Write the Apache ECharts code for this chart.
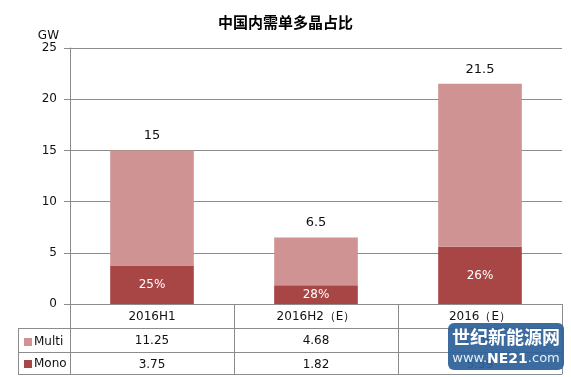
<!DOCTYPE html>
<html>
<head>
<meta charset="utf-8">
<script src="https://cdn.jsdelivr.net/npm/echarts@6/dist/echarts.min.js"></script>
<style>
  html, body { margin: 0; padding: 0; background: #fff; }
  #chart { width: 571px; height: 377px; }
</style>
</head>
<body>
<div id="chart"></div>
<script>
const categories = ['2016H1', '2016H2（E）', '2016（E）'];
const multi = [11.25, 4.68, 15.91];
const mono = [3.75, 1.82, 5.59];
const totals = [15, 6.5, 21.5];
const monoShare = ['25%', '28%', '26%'];
const yTicks = [0, 5, 10, 15, 20, 25];

const FONT = 'DejaVu Sans';
const lineColor = '#8c8c8c';

// table row axis (category row / value rows / bottom border)
function tableAxis(data, offset, tickLen, showLabel) {
  return {
    type: 'category',
    data: data,
    position: 'bottom',
    offset: offset,
    gridIndex: 0,
    axisLine: { show: true, lineStyle: { color: lineColor, width: 1 } },
    axisTick: { show: tickLen > 0, length: tickLen, lineStyle: { color: lineColor } },
    axisLabel: { show: showLabel, margin: 7, color: '#111', fontSize: 12, fontFamily: FONT },
  };
}

const myChart = echarts.init(document.getElementById('chart'));
const option = {
  animation: false,
  textStyle: { fontFamily: FONT },
  title: {
    text: '中国内需单多晶占比',
    left: 'center',
    top: 10,
    textStyle: { fontFamily: 'Noto Sans CJK SC', fontSize: 15, fontWeight: 'bold', color: '#000' },
  },
  legend: {
    data: ['Multi', 'Mono'],
    orient: 'vertical',
    left: 19,
    top: 331,
    itemWidth: 8,
    itemHeight: 8,
    itemGap: 10,
    icon: 'rect',
    textStyle: { fontSize: 12, color: '#111', fontFamily: FONT, padding: [0, 0, 0, -3] },
  },
  grid: { left: 70, right: 9, top: 48, bottom: 73 },
  xAxis: [
    tableAxis(categories, 0, 24, true),
    tableAxis(multi.map(String), 24, 24, true),
    tableAxis(mono.map(String), 48, 22, true),
    tableAxis(categories, 70, 0, false),
  ],
  yAxis: {
    type: 'value',
    min: yTicks[0],
    max: yTicks[yTicks.length - 1],
    interval: 5,
    name: 'GW',
    nameGap: 0,
    nameTextStyle: { color: '#111', fontSize: 12, align: 'right', padding: [0, 11, 0, 0] },
    axisLine: { show: true, lineStyle: { color: lineColor } },
    axisTick: { show: true, length: 6, lineStyle: { color: lineColor } },
    axisLabel: { color: '#111', fontSize: 12, margin: 13 },
    splitLine: { show: true, lineStyle: { color: lineColor, width: 1 } },
  },
  series: [
    {
      name: 'Mono',
      type: 'bar',
      stack: 'total',
      xAxisIndex: 0,
      barWidth: '51%',
      data: mono,
      itemStyle: { color: '#A84646' },
      label: {
        show: true,
        position: 'inside',
        color: '#fff',
        fontSize: 12,
        formatter: (p) => monoShare[p.dataIndex],
      },
    },
    {
      name: 'Multi',
      type: 'bar',
      stack: 'total',
      xAxisIndex: 0,
      data: multi,
      itemStyle: { color: '#CF9393' },
      label: {
        show: true,
        position: 'top',
        distance: 8,
        color: '#111',
        fontSize: 13,
        formatter: (p) => String(totals[p.dataIndex]),
      },
    },
  ],
  graphic: [
    // left header column of the data table
    { type: 'line', shape: { x1: 18, y1: 328.5, x2: 70, y2: 328.5 }, style: { stroke: lineColor } },
    { type: 'line', shape: { x1: 18, y1: 352.5, x2: 70, y2: 352.5 }, style: { stroke: lineColor } },
    { type: 'line', shape: { x1: 18, y1: 374.5, x2: 70, y2: 374.5 }, style: { stroke: lineColor } },
    { type: 'line', shape: { x1: 18.5, y1: 328, x2: 18.5, y2: 375 }, style: { stroke: lineColor } },
    // site watermark
    {
      type: 'group',
      left: 448,
      top: 323,
      zlevel: 1,
      children: [
        {
          type: 'rect',
          z: 100,
          shape: { x: 0, y: 0, width: 116, height: 47, r: 6 },
          style: { fill: 'rgba(44, 96, 152, 0.93)' },
        },
        {
          type: 'text',
          z: 101,
          x: 58,
          y: 5,
          style: {
            text: '世纪新能源网',
            fill: '#fff',
            fontSize: 18,
            fontWeight: 'bold',
            fontFamily: 'Noto Sans CJK SC',
            align: 'center',
          },
        },
        {
          type: 'text',
          z: 101,
          x: 58,
          y: 29,
          style: {
            text: '{a|www.}{b|NE21}{a|.com}',
            align: 'center',
            rich: {
              a: { fill: '#e8eef6', fontSize: 13, fontFamily: FONT },
              b: { fill: '#fff', fontSize: 14, fontWeight: 'bold', fontFamily: FONT },
            },
          },
        },
      ],
    },
  ],
};
myChart.setOption(option);
</script>
</body>
</html>
